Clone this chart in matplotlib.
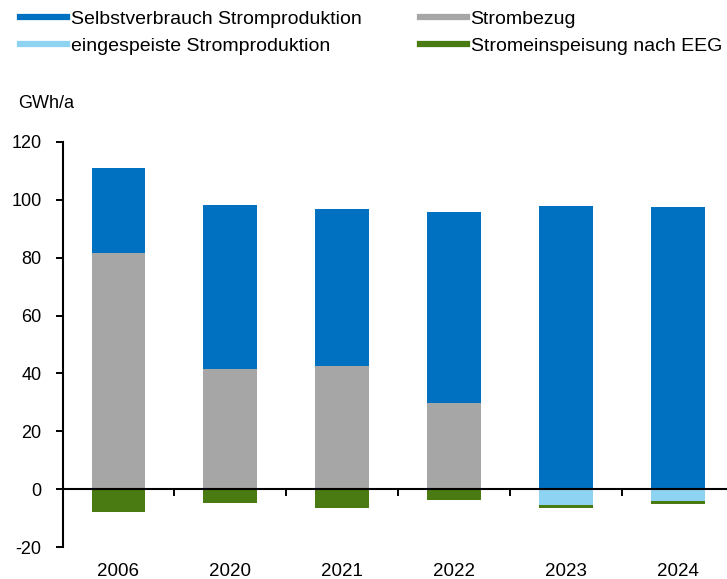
import matplotlib.pyplot as plt
import numpy as np

plt.rcParams['font.family'] = ['Liberation Sans', 'DejaVu Sans']
plt.rcParams['axes.unicode_minus'] = False

years = ['2006', '2020', '2021', '2022', '2023', '2024']
strombezug = [81.5, 41.5, 42.5, 29.8, 0.0, 0.0]
selbstverbrauch = [29.5, 56.8, 54.4, 66.0, 97.9, 97.6]
eingespeist = [0.0, 0.0, 0.0, 0.0, -5.5, -4.2]
eeg = [-8.0, -4.8, -6.6, -3.8, -1.0, -0.8]

c_blue = '#0070C0'
c_gray = '#A6A6A6'
c_lblue = '#8ED3F2'
c_green = '#4A7A12'

fig = plt.figure(figsize=(7.27, 5.79), dpi=100)
ax = fig.add_axes([0.086, 0.055, 0.914, 0.700])

x = np.arange(len(years))
w = 0.48
ax.bar(x, strombezug, w, color=c_gray, zorder=2)
ax.bar(x, selbstverbrauch, w, bottom=strombezug, color=c_blue, zorder=2)
ax.bar(x, eingespeist, w, color=c_lblue, zorder=2)
ax.bar(x, eeg, w, bottom=eingespeist, color=c_green, zorder=2)

ax.set_ylim(-20, 120)
ax.set_xlim(-0.5, 5.44)
ax.set_yticks(np.arange(-20, 121, 20))
ax.tick_params(axis='y', direction='out', length=5, width=1.4, labelsize=13, pad=10)

for s in ['top', 'right']:
    ax.spines[s].set_visible(False)
ax.spines['left'].set_linewidth(1.5)
ax.spines['bottom'].set_position(('data', 0))
ax.spines['bottom'].set_linewidth(1.5)
ax.spines['bottom'].set_zorder(3)

ax.set_xticks(x)
ax.set_xticklabels([])
ax.tick_params(axis='x', which='major', length=0)
ax.set_xticks(np.arange(0.5, 5.5, 1), minor=True)
ax.tick_params(axis='x', which='minor', direction='out', length=5, width=1.4)

sec = ax.secondary_xaxis(0.0)
sec.set_xticks(x)
sec.set_xticklabels(years)
sec.tick_params(length=0, labelsize=13.5, pad=11.5)
sec.spines['bottom'].set_visible(False)

fig.text(0.025, 0.822, 'GWh/a', fontsize=13, va='center', ha='left')

handles = [plt.Line2D([], [], color=c, lw=4.5) for c in [c_blue, c_lblue, c_gray, c_green]]
labels = ['Selbstverbrauch Stromproduktion', 'eingespeiste Stromproduktion',
          'Strombezug', 'Stromeinspeisung nach EEG']
fig.legend(handles, labels, ncol=2, loc='upper left', bbox_to_anchor=(0.004, 1.012),
           frameon=False, handlelength=2.4, handletextpad=0.2,
           columnspacing=3.0, labelspacing=0.45,
           prop={'size': 14})

fig.savefig('out.png', dpi=100)
